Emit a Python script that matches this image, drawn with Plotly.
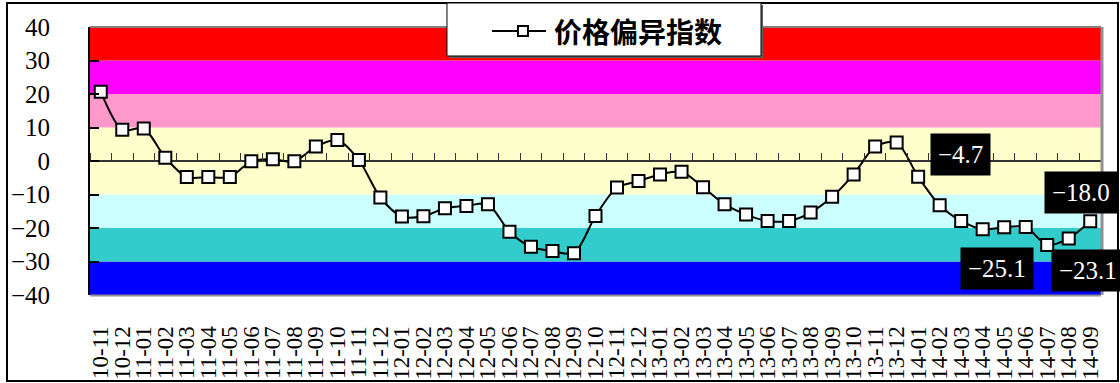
import plotly.graph_objects as go

# Month labels (YY-MM)
months = [
    "10-11", "10-12",
    "11-01", "11-02", "11-03", "11-04", "11-05", "11-06",
    "11-07", "11-08", "11-09", "11-10", "11-11", "11-12",
    "12-01", "12-02", "12-03", "12-04", "12-05", "12-06",
    "12-07", "12-08", "12-09", "12-10", "12-11", "12-12",
    "13-01", "13-02", "13-03", "13-04", "13-05", "13-06",
    "13-07", "13-08", "13-09", "13-10", "13-11", "13-12",
    "14-01", "14-02", "14-03", "14-04", "14-05", "14-06",
    "14-07", "14-08", "14-09",
]

# Price deviation index
index_values = [
    20.7, 9.3,
    9.7, 1.0, -4.8, -4.8, -4.8, -0.1,
    0.5, -0.1, 4.3, 6.3, 0.3, -10.9,
    -16.6, -16.5, -14.1, -13.4, -12.9, -21.1,
    -25.6, -26.9, -27.5, -16.4, -7.9, -6.0,
    -4.0, -3.2, -7.8, -12.9, -16.0, -17.9,
    -17.9, -15.4, -10.7, -4.0, 4.3, 5.5,
    -4.7, -13.2, -17.9, -20.4, -19.8, -19.7,
    -25.1, -23.1, -18.0,
]

# Months whose values are written on the chart, with label offsets (px)
labelled_months = ["14-01", "14-07", "14-08", "14-09"]
label_xshift = [42, -50, 19, -9]
label_yshift = [22, -23, -32, 29]

# Background bands: (lower, upper, colour)
band_lower = [-40, -30, -20, -10, 10, 20, 30]
band_upper = [-30, -20, -10, 10, 20, 30, 40]
band_colors = ["#0000FF", "#33CCCC", "#CCFFFF", "#FFFFCC",
               "#FF99CC", "#FF00FF", "#FF0000"]

y_ticks = [-40, -30, -20, -10, 0, 10, 20, 30, 40]

SERIF = "Liberation Serif, 'Times New Roman', serif"
CJK = "Noto Sans CJK SC"

fig = go.Figure()

fig.add_trace(go.Scatter(
    x=months, y=index_values, mode="lines+markers",
    name="价格偏异指数",
    line=dict(color="black", width=2, shape="spline", smoothing=0.8),
    marker=dict(symbol="square", size=12, color="white",
                line=dict(color="black", width=2)),
    showlegend=False, cliponaxis=False,
))

# empty trace so the tick axis on the zero line is rendered
fig.add_trace(go.Scatter(x=[], y=[], xaxis="x2", yaxis="y",
                         showlegend=False, hoverinfo="skip"))

shapes = []
for lo, hi, col in zip(band_lower, band_upper, band_colors):
    shapes.append(dict(type="rect", xref="paper", yref="y", x0=0, x1=1,
                       y0=lo, y1=hi, fillcolor=col, line=dict(width=0),
                       layer="below"))

# plot-area edges (top, right, bottom)
edge = dict(color="#808080", width=2)
shapes += [
    dict(type="line", xref="paper", yref="paper", x0=0, x1=1, y0=1, y1=1, line=edge),
    dict(type="line", xref="paper", yref="paper", x0=1.001, x1=1.001, y0=0, y1=1,
         line=dict(color="#909090", width=3)),
    dict(type="line", xref="paper", yref="paper", x0=0, x1=1, y0=-0.002, y1=-0.002,
         line=dict(color="#909090", width=2)),
]

# outer frame
shapes.append(dict(type="rect", xref="paper", yref="paper",
                   x0=-0.0821, x1=1.0168, y0=-0.3209, y1=1.0896,
                   line=dict(color="black", width=2), layer="below"))

# legend box with shadow
shapes.append(dict(type="rect", xref="paper", yref="paper",
                   x0=0.3551, x1=0.6657, y0=0.8843, y1=1.0821,
                   fillcolor="#606060", line=dict(width=0)))
shapes.append(dict(type="rect", xref="paper", yref="paper",
                   x0=0.3531, x1=0.6637, y0=0.8918, y1=1.0896,
                   fillcolor="white", line=dict(color="black", width=1)))
shapes.append(dict(type="line", xref="paper", yref="paper",
                   x0=0.3976, x1=0.4510, y0=0.9851, y1=0.9851,
                   line=dict(color="black", width=2)))
shapes.append(dict(type="rect", xref="paper", yref="paper",
                   x0=0.4233, x1=0.4332, y0=0.9664, y1=1.0037,
                   fillcolor="white", line=dict(color="black", width=2)))

annotations = [dict(
    xref="paper", yref="paper", x=0.457, y=0.9851,
    xanchor="left", yanchor="middle", showarrow=False,
    text="<b>价格偏异指数</b>",
    font=dict(family=CJK, size=28, color="black"),
)]

for m, dx, dy in zip(labelled_months, label_xshift, label_yshift):
    v = index_values[months.index(m)]
    annotations.append(dict(
        x=m, y=v, xref="x", yref="y", showarrow=False,
        text=f"{v:.1f}".replace("-", "\u2212"),
        xshift=dx, yshift=dy,
        font=dict(family=SERIF, size=25, color="white"),
        bgcolor="black", borderpad=7,
    ))

fig.update_layout(
    width=1120, height=383,
    margin=dict(l=90, r=19, t=27, b=88, autoexpand=False),
    paper_bgcolor="white", plot_bgcolor="white",
    shapes=shapes, annotations=annotations,
    showlegend=False,
    xaxis=dict(
        type="category", categoryorder="array", categoryarray=months,
        range=[-0.5, len(months) - 0.5], automargin=False,
        tickmode="linear", tick0=0, dtick=1,
        showgrid=False, zeroline=False, showline=False,
        ticks="outside", ticklen=21, tickcolor="rgba(0,0,0,0)",
        tickangle=-90, tickfont=dict(family=SERIF, size=23, color="black"),
    ),
    xaxis2=dict(
        overlaying="x", anchor="free", position=0.5, side="top",
        range=[-0.5, len(months) - 0.5], automargin=False,
        tickmode="linear", tick0=0.5, dtick=1,
        ticks="outside", ticklen=8, tickwidth=1, tickcolor="#333333",
        showticklabels=False, showgrid=False, zeroline=False, showline=False,
    ),
    yaxis=dict(
        range=[-40, 40], tickvals=y_ticks, automargin=False,
        showgrid=False, zeroline=True, zerolinecolor="#333333", zerolinewidth=1.5,
        showline=True, linecolor="black", linewidth=2,
        ticks="inside", ticklen=9, tickwidth=1.5, tickcolor="black",
        ticklabelstandoff=33,
        tickfont=dict(family=SERIF, size=25, color="black"),
    ),
)

fig.write_html("out.html")
